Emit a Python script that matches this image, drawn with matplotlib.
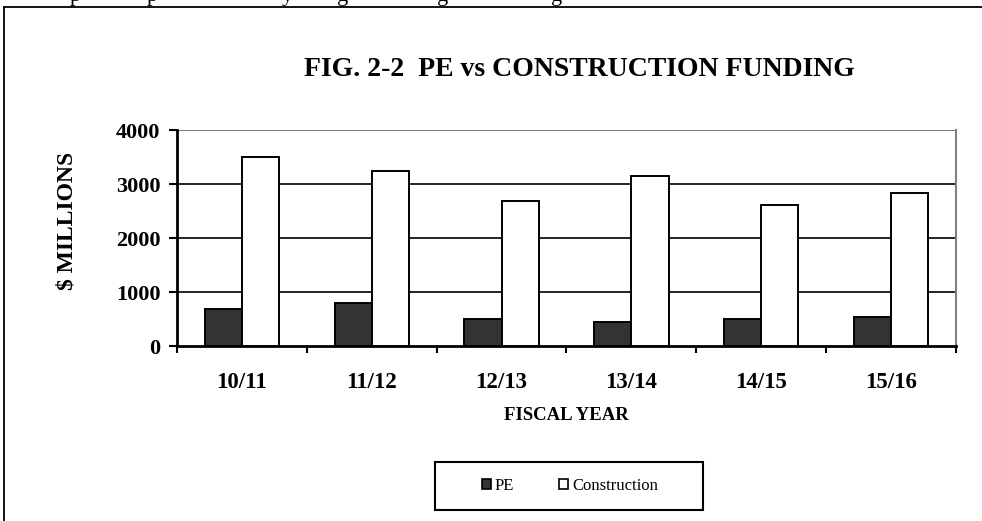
import matplotlib
matplotlib.use("Agg")
import matplotlib.pyplot as plt
from matplotlib.patches import Rectangle, Patch
from matplotlib.lines import Line2D
import numpy as np

years = ["10/11", "11/12", "12/13", "13/14", "14/15", "15/16"]
pe = [680, 790, 500, 440, 500, 540]
construction = [3500, 3250, 2690, 3150, 2620, 2840]
yticks = [0, 1000, 2000, 3000, 4000]

W, H = 982, 521
fig = plt.figure(figsize=(W / 100, H / 100), dpi=100)
serif = ["Liberation Serif", "DejaVu Serif"]

def fx(px):
    return px / W

def fy(py):
    return 1 - py / H

# outer frame (cropped document box)
fig.add_artist(Line2D([fx(4), fx(4)], [fy(7), fy(530)], color="black", lw=1.3, transform=fig.transFigure))
fig.add_artist(Line2D([fx(4), fx(990)], [fy(7), fy(7)], color="black", lw=1.3, transform=fig.transFigure))

# cut-off text line above the frame
for ch, x in zip("ppyggg", [75, 152, 287, 343, 443, 557]):
    fig.text(fx(x), fy(0.5), ch, fontsize=16, family=serif, ha="center", va="baseline")

ax = fig.add_axes([fx(177), fy(346), fx(956) - fx(177), fy(130) - fy(346)])
x = np.arange(len(years))
bw = 1 / 3.5
ax.bar(x - bw / 2, pe, bw, color="#333333", edgecolor="black", linewidth=1.4, zorder=3, label="PE")
ax.bar(x + bw / 2, construction, bw, color="white", edgecolor="black", linewidth=1.4, zorder=3, label="Construction")

ax.set_xlim(-0.5, len(years) - 0.5)
ax.set_ylim(0, 4000)
ax.set_yticks(yticks)
ax.set_yticklabels([str(v) for v in yticks], fontsize=16, fontweight="bold", family=serif)
ax.set_xticks(np.arange(len(years) + 1) - 0.5)
ax.set_xticklabels([])
ax.set_xticks(x, minor=True)
ax.set_xticklabels(years, minor=True, fontsize=16.5, fontweight="bold", family=serif)
ax.tick_params(axis="x", which="minor", length=0, pad=19)
ax.tick_params(axis="x", which="major", direction="out", length=5, width=1.5)
ax.tick_params(axis="y", direction="out", length=6, width=1.5, pad=6)

for v in yticks[1:-1]:
    ax.axhline(v, color="black", lw=1.2, zorder=1)
ax.axhline(4000, color="#808080", lw=1.5, zorder=1)

for s in ["left", "bottom"]:
    ax.spines[s].set_color("black")
    ax.spines[s].set_linewidth(2)
ax.spines["top"].set_visible(False)
ax.spines["right"].set_color("#808080")
ax.spines["right"].set_linewidth(1.5)
ax.set_zorder(2)

fig.text(fx(579), fy(70), "FIG. 2-2  PE vs CONSTRUCTION FUNDING", fontsize=20, fontweight="bold",
         family=serif, ha="center", va="center")
fig.text(fx(566), fy(415), "FISCAL YEAR", fontsize=13.5, fontweight="bold", family=serif,
         ha="center", va="center")
fig.text(fx(67), fy(221), "$ MILLIONS", fontsize=17, fontweight="bold", family=serif,
         ha="center", va="center", rotation=90)

# legend box
fig.add_artist(Rectangle((fx(435), fy(510)), fx(703) - fx(435), fy(462) - fy(510),
                         transform=fig.transFigure, facecolor="white", edgecolor="black", lw=1.5))
handles = [Patch(facecolor="#333333", edgecolor="black", linewidth=1.2),
           Patch(facecolor="white", edgecolor="black", linewidth=1.2)]
leg = fig.legend(handles, ["PE", "Construction"], loc="center",
                 bbox_to_anchor=(fx(570), fy(486)), ncol=2, frameon=False,
                 prop={"family": serif, "size": 12}, handlelength=0.55, handleheight=0.6,
                 handletextpad=0.25, columnspacing=2.7, borderpad=0.2)
leg.set_zorder(5)

fig.savefig("out.png", dpi=100)
